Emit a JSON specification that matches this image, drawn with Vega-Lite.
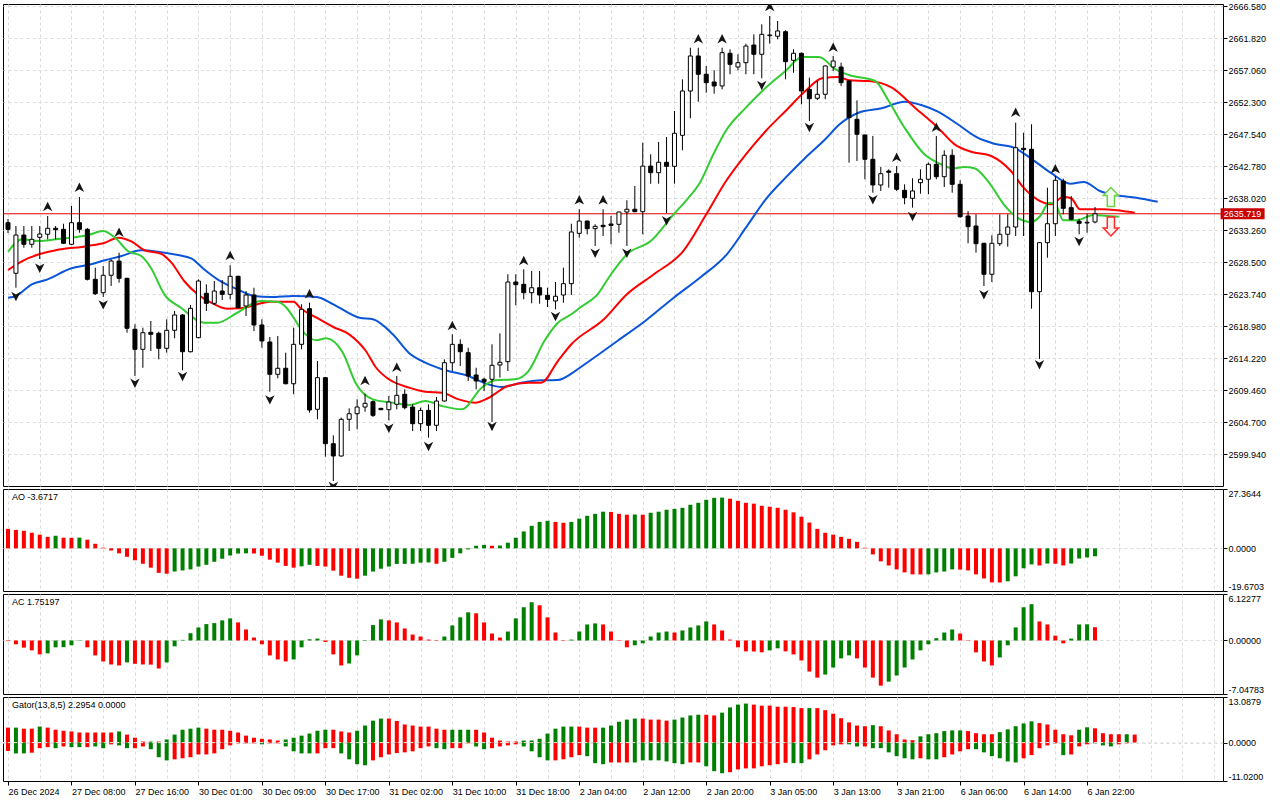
{
  "$schema": "https://vega.github.io/schema/vega-lite/v6.json",
  "background": "white",
  "padding": {"left": 2, "top": 1, "right": 0, "bottom": 0},
  "config": {
    "view": {"stroke": "#000000", "strokeWidth": 1},
    "concat": {"spacing": 1},
    "locale": {"number": {"decimal": ".", "thousands": ",", "grouping": [3], "currency": ["", ""], "minus": "-"}},
    "axis": {"labelFont": "Liberation Sans", "labelFontSize": 9, "labelColor": "#000000", "tickColor": "#000000", "tickSize": 4, "labelPadding": 1, "domain": false, "gridColor": "#dadada", "gridDash": [3, 3], "gridWidth": 1},
    "text": {"font": "Liberation Sans", "fontSize": 9, "color": "#000000"}
  },
  "datasets": {
    "candles": [
      {"i":0,"o":2634.39,"h":2634.94,"l":2632.86,"c":2633.41},{"i":1,"o":2626.87,"h":2633.90,"l":2624.72,"c":2632.56},{"i":2,"o":2632.56,"h":2633.90,"l":2630.67,"c":2631.18},{"i":3,"o":2631.18,"h":2633.90,"l":2630.67,"c":2631.92},{"i":4,"o":2632.22,"h":2633.90,"l":2628.99,"c":2632.71},{"i":5,"o":2632.67,"h":2635.39,"l":2631.92,"c":2633.56},{"i":6,"o":2633.56,"h":2633.90,"l":2631.92,"c":2633.35},{"i":7,"o":2633.41,"h":2634.24,"l":2631.25,"c":2631.33},{"i":8,"o":2631.18,"h":2636.88,"l":2631.10,"c":2634.39},{"i":9,"o":2634.39,"h":2638.21,"l":2632.90,"c":2633.41},
      {"i":10,"o":2633.41,"h":2633.60,"l":2625.80,"c":2625.97},{"i":11,"o":2625.97,"h":2627.70,"l":2623.64,"c":2623.83},{"i":12,"o":2623.98,"h":2627.95,"l":2623.34,"c":2626.57},{"i":13,"o":2626.57,"h":2628.95,"l":2624.98,"c":2628.69},{"i":14,"o":2628.69,"h":2629.93,"l":2625.47,"c":2626.12},{"i":15,"o":2626.12,"h":2626.20,"l":2618.03,"c":2618.69},{"i":16,"o":2618.54,"h":2619.28,"l":2611.59,"c":2615.56},{"i":17,"o":2615.56,"h":2618.77,"l":2612.82,"c":2618.03},{"i":18,"o":2618.09,"h":2619.77,"l":2615.31,"c":2617.79},{"i":19,"o":2617.94,"h":2618.18,"l":2614.07,"c":2615.71},
      {"i":20,"o":2615.71,"h":2620.02,"l":2615.06,"c":2618.39},{"i":21,"o":2618.39,"h":2621.26,"l":2617.20,"c":2620.66},{"i":22,"o":2620.66,"h":2620.80,"l":2612.44,"c":2615.20},{"i":23,"o":2615.20,"h":2622.15,"l":2615.10,"c":2621.66},{"i":24,"o":2617.29,"h":2625.97,"l":2617.20,"c":2625.72},{"i":25,"o":2623.89,"h":2625.23,"l":2621.26,"c":2622.40},{"i":26,"o":2622.40,"h":2625.72,"l":2622.15,"c":2624.23},{"i":27,"o":2624.23,"h":2625.87,"l":2622.89,"c":2623.74},{"i":28,"o":2623.74,"h":2628.06,"l":2622.99,"c":2626.42},{"i":29,"o":2626.42,"h":2626.50,"l":2621.70,"c":2621.75},
      {"i":30,"o":2622.00,"h":2624.23,"l":2620.51,"c":2623.64},{"i":31,"o":2623.64,"h":2624.72,"l":2618.28,"c":2619.18},{"i":32,"o":2619.18,"h":2620.02,"l":2615.80,"c":2616.80},{"i":33,"o":2616.65,"h":2617.39,"l":2609.26,"c":2611.84},{"i":34,"o":2611.84,"h":2617.54,"l":2611.25,"c":2612.74},{"i":35,"o":2612.74,"h":2615.06,"l":2610.35,"c":2610.44},{"i":36,"o":2610.44,"h":2618.77,"l":2608.87,"c":2616.30},{"i":37,"o":2616.30,"h":2622.26,"l":2615.56,"c":2621.51},{"i":38,"o":2621.60,"h":2622.49,"l":2606.13,"c":2606.53},{"i":39,"o":2606.64,"h":2613.82,"l":2605.15,"c":2611.34},
      {"i":40,"o":2611.34,"h":2611.40,"l":2599.59,"c":2601.52},{"i":41,"o":2601.52,"h":2602.77,"l":2595.97,"c":2599.69},{"i":42,"o":2599.69,"h":2605.39,"l":2599.60,"c":2605.15},{"i":43,"o":2605.15,"h":2606.78,"l":2603.41,"c":2605.98},{"i":44,"o":2605.98,"h":2608.13,"l":2603.66,"c":2606.98},{"i":45,"o":2606.98,"h":2608.96,"l":2606.28,"c":2607.53},{"i":46,"o":2607.77,"h":2607.97,"l":2605.49,"c":2605.74},{"i":47,"o":2606.78,"h":2606.85,"l":2606.52,"c":2606.58},{"i":48,"o":2606.58,"h":2608.62,"l":2605.00,"c":2607.72},{"i":49,"o":2607.38,"h":2611.59,"l":2606.64,"c":2608.72},
      {"i":50,"o":2608.87,"h":2609.61,"l":2606.64,"c":2606.88},{"i":51,"o":2606.98,"h":2607.38,"l":2603.41,"c":2604.50},{"i":52,"o":2604.50,"h":2606.88,"l":2603.41,"c":2606.48},{"i":53,"o":2606.48,"h":2607.38,"l":2602.41,"c":2604.26},{"i":54,"o":2604.26,"h":2608.47,"l":2603.41,"c":2607.87},{"i":55,"o":2607.87,"h":2614.07,"l":2607.80,"c":2613.57},{"i":56,"o":2613.57,"h":2617.79,"l":2612.33,"c":2616.30},{"i":57,"o":2616.30,"h":2617.05,"l":2613.08,"c":2615.20},{"i":58,"o":2615.06,"h":2615.80,"l":2610.85,"c":2611.59},{"i":59,"o":2611.74,"h":2612.82,"l":2609.61,"c":2610.85},
      {"i":60,"o":2611.10,"h":2611.34,"l":2609.36,"c":2610.74},{"i":61,"o":2611.10,"h":2616.30,"l":2604.75,"c":2613.18},{"i":62,"o":2613.23,"h":2617.94,"l":2611.34,"c":2613.63},{"i":63,"o":2613.72,"h":2626.72,"l":2612.33,"c":2625.57},{"i":64,"o":2625.57,"h":2626.72,"l":2622.11,"c":2625.17},{"i":65,"o":2625.23,"h":2627.46,"l":2622.99,"c":2623.98},{"i":66,"o":2623.98,"h":2627.21,"l":2622.40,"c":2624.72},{"i":67,"o":2624.72,"h":2627.21,"l":2622.34,"c":2623.64},{"i":68,"o":2623.59,"h":2624.72,"l":2621.85,"c":2622.99},{"i":69,"o":2622.75,"h":2625.57,"l":2621.51,"c":2623.45},
      {"i":70,"o":2623.64,"h":2627.70,"l":2622.49,"c":2625.32},{"i":71,"o":2625.32,"h":2634.24,"l":2623.64,"c":2633.01},{"i":72,"o":2632.81,"h":2636.39,"l":2632.16,"c":2634.64},{"i":73,"o":2634.64,"h":2634.70,"l":2632.67,"c":2633.50},{"i":74,"o":2633.50,"h":2634.15,"l":2630.93,"c":2633.85},{"i":75,"o":2634.00,"h":2636.39,"l":2632.41,"c":2633.80},{"i":76,"o":2634.20,"h":2635.39,"l":2631.18,"c":2634.00},{"i":77,"o":2634.15,"h":2636.03,"l":2632.90,"c":2635.98},{"i":78,"o":2635.98,"h":2637.72,"l":2630.93,"c":2636.39},{"i":79,"o":2636.39,"h":2639.85,"l":2635.95,"c":2636.03},
      {"i":80,"o":2636.03,"h":2646.29,"l":2632.67,"c":2642.81},{"i":81,"o":2642.81,"h":2644.57,"l":2640.19,"c":2641.83},{"i":82,"o":2641.83,"h":2646.40,"l":2640.19,"c":2643.38},{"i":83,"o":2643.38,"h":2647.14,"l":2635.83,"c":2642.78},{"i":84,"o":2642.78,"h":2651.01,"l":2640.19,"c":2647.69},{"i":85,"o":2647.39,"h":2655.72,"l":2645.16,"c":2653.98},{"i":86,"o":2653.98,"h":2660.42,"l":2649.92,"c":2659.19},{"i":87,"o":2659.19,"h":2660.42,"l":2652.39,"c":2656.47},{"i":88,"o":2656.47,"h":2657.70,"l":2653.73,"c":2655.22},{"i":89,"o":2655.32,"h":2657.06,"l":2653.58,"c":2654.73},
      {"i":90,"o":2654.73,"h":2660.42,"l":2654.23,"c":2659.68},{"i":91,"o":2659.59,"h":2660.18,"l":2656.47,"c":2657.95},{"i":92,"o":2657.55,"h":2659.44,"l":2657.06,"c":2658.19},{"i":93,"o":2658.19,"h":2661.02,"l":2656.47,"c":2660.67},{"i":94,"o":2660.82,"h":2662.41,"l":2656.47,"c":2659.44},{"i":95,"o":2659.44,"h":2663.90,"l":2655.87,"c":2662.41},{"i":96,"o":2662.21,"h":2665.14,"l":2661.02,"c":2662.31},{"i":97,"o":2662.12,"h":2664.39,"l":2661.67,"c":2662.91},{"i":98,"o":2662.80,"h":2663.01,"l":2655.72,"c":2658.34},{"i":99,"o":2658.55,"h":2660.18,"l":2656.70,"c":2659.59},
      {"i":100,"o":2659.59,"h":2659.70,"l":2652.00,"c":2653.98},{"i":101,"o":2654.23,"h":2655.96,"l":2649.52,"c":2652.84},{"i":102,"o":2652.90,"h":2655.47,"l":2652.64,"c":2653.49},{"i":103,"o":2653.49,"h":2657.80,"l":2652.75,"c":2657.70},{"i":104,"o":2657.55,"h":2659.19,"l":2656.96,"c":2658.44},{"i":105,"o":2657.55,"h":2658.19,"l":2654.73,"c":2655.22},{"i":106,"o":2655.47,"h":2655.60,"l":2643.32,"c":2650.01},{"i":107,"o":2649.77,"h":2652.59,"l":2643.57,"c":2647.54},{"i":108,"o":2647.44,"h":2647.50,"l":2640.85,"c":2643.82},{"i":109,"o":2643.82,"h":2647.29,"l":2638.85,"c":2640.00},
      {"i":110,"o":2640.00,"h":2642.67,"l":2639.11,"c":2641.68},{"i":111,"o":2642.08,"h":2642.33,"l":2639.60,"c":2641.89},{"i":112,"o":2641.68,"h":2642.81,"l":2639.11,"c":2639.36},{"i":113,"o":2639.21,"h":2640.10,"l":2637.13,"c":2638.11},{"i":114,"o":2638.02,"h":2641.00,"l":2636.63,"c":2639.11},{"i":115,"o":2640.34,"h":2642.33,"l":2638.71,"c":2640.85},{"i":116,"o":2640.85,"h":2643.32,"l":2638.62,"c":2643.08},{"i":117,"o":2643.08,"h":2647.29,"l":2640.85,"c":2641.23},{"i":118,"o":2641.23,"h":2645.16,"l":2639.70,"c":2644.42},{"i":119,"o":2644.42,"h":2645.31,"l":2638.85,"c":2640.10},
      {"i":120,"o":2640.10,"h":2640.70,"l":2635.13,"c":2635.28},{"i":121,"o":2635.39,"h":2636.13,"l":2631.33,"c":2633.80},{"i":122,"o":2633.90,"h":2635.64,"l":2629.93,"c":2631.27},{"i":123,"o":2631.33,"h":2631.40,"l":2624.98,"c":2626.72},{"i":124,"o":2626.72,"h":2632.52,"l":2625.57,"c":2631.33},{"i":125,"o":2631.27,"h":2635.64,"l":2630.93,"c":2632.67},{"i":126,"o":2632.67,"h":2635.64,"l":2630.82,"c":2633.75},{"i":127,"o":2633.75,"h":2649.27,"l":2632.41,"c":2645.55},{"i":128,"o":2645.46,"h":2647.78,"l":2632.41,"c":2645.25},{"i":129,"o":2645.31,"h":2649.03,"l":2621.60,"c":2624.13},
      {"i":130,"o":2624.13,"h":2631.50,"l":2614.12,"c":2631.42},{"i":131,"o":2631.42,"h":2639.60,"l":2629.19,"c":2634.24},{"i":132,"o":2634.24,"h":2641.34,"l":2632.41,"c":2640.70},{"i":133,"o":2640.59,"h":2640.93,"l":2635.64,"c":2636.53},{"i":134,"o":2636.63,"h":2638.36,"l":2634.75,"c":2634.90},{"i":135,"o":2634.60,"h":2634.99,"l":2632.67,"c":2634.30},{"i":136,"o":2634.45,"h":2635.73,"l":2632.90,"c":2634.35},{"i":137,"o":2634.50,"h":2636.73,"l":2634.30,"c":2635.719}
    ],
    "lines": [
      {"s":"jaw","i":0,"p":2623.24},{"s":"jaw","i":1,"p":2623.49},{"s":"jaw","i":3,"p":2625.23},{"s":"jaw","i":5,"p":2625.97},{"s":"jaw","i":8,"p":2627.61},{"s":"jaw","i":10.1,"p":2628.10},{"s":"jaw","i":12.2,"p":2628.80},{"s":"jaw","i":14.3,"p":2629.44},{"s":"jaw","i":16.8,"p":2630.28},{"s":"jaw","i":18.9,"p":2630.08},{"s":"jaw","i":21.4,"p":2629.59},{"s":"jaw","i":23.1,"p":2629.10},{"s":"jaw","i":24.7,"p":2627.46},{"s":"jaw","i":26.4,"p":2625.97},{"s":"jaw","i":28.9,"p":2624.48},{"s":"jaw","i":31,"p":2623.49},{"s":"jaw","i":33.1,"p":2623.34},{"s":"jaw","i":36,"p":2623.49},{"s":"jaw","i":38.9,"p":2623.34},{"s":"jaw","i":41,"p":2622.25},{"s":"jaw","i":44.3,"p":2620.26},{"s":"jaw","i":46,"p":2620.02},{"s":"jaw","i":48.5,"p":2617.79},{"s":"jaw","i":50.5,"p":2615.06},{"s":"jaw","i":52.6,"p":2613.57},{"s":"jaw","i":54.7,"p":2612.59},{"s":"jaw","i":58,"p":2611.59},{"s":"jaw","i":60.5,"p":2610.36},{"s":"jaw","i":62.2,"p":2609.95},{"s":"jaw","i":64.7,"p":2610.59},{"s":"jaw","i":67.2,"p":2610.95},{"s":"jaw","i":69.3,"p":2611.00},{"s":"jaw","i":71,"p":2611.93},{"s":"jaw","i":72.2,"p":2612.93},{"s":"jaw","i":74.7,"p":2615.01},{"s":"jaw","i":76.8,"p":2616.80},{"s":"jaw","i":80.3,"p":2619.77},{"s":"jaw","i":83.9,"p":2623.24},{"s":"jaw","i":87.2,"p":2626.21},{"s":"jaw","i":90.6,"p":2629.69},{"s":"jaw","i":93,"p":2633.65},{"s":"jaw","i":95.5,"p":2637.87},{"s":"jaw","i":98,"p":2641.09},{"s":"jaw","i":100.5,"p":2644.06},{"s":"jaw","i":103,"p":2646.80},{"s":"jaw","i":104.7,"p":2648.92},{"s":"jaw","i":107.2,"p":2650.75},{"s":"jaw","i":110.1,"p":2651.41},{"s":"jaw","i":113,"p":2652.39},{"s":"jaw","i":115.1,"p":2651.90},{"s":"jaw","i":117.2,"p":2650.90},{"s":"jaw","i":119.7,"p":2649.03},{"s":"jaw","i":122.2,"p":2647.03},{"s":"jaw","i":124.3,"p":2646.14},{"s":"jaw","i":126.8,"p":2645.55},{"s":"jaw","i":128.9,"p":2643.97},{"s":"jaw","i":131.4,"p":2641.83},{"s":"jaw","i":133.9,"p":2640.19},{"s":"jaw","i":135.6,"p":2640.45},{"s":"jaw","i":137.6,"p":2639.11},{"s":"jaw","i":139.7,"p":2638.47},{"s":"jaw","i":142.2,"p":2638.11},{"s":"jaw","i":144.9,"p":2637.52},
      {"s":"teeth","i":0,"p":2627.36},{"s":"teeth","i":1.8,"p":2628.69},{"s":"teeth","i":3.9,"p":2629.69},{"s":"teeth","i":6,"p":2630.29},{"s":"teeth","i":10.1,"p":2630.93},{"s":"teeth","i":12.2,"p":2631.42},{"s":"teeth","i":13.9,"p":2632.16},{"s":"teeth","i":15.6,"p":2631.57},{"s":"teeth","i":17.2,"p":2630.29},{"s":"teeth","i":19.3,"p":2629.78},{"s":"teeth","i":20.6,"p":2628.45},{"s":"teeth","i":22.2,"p":2625.72},{"s":"teeth","i":23.9,"p":2623.74},{"s":"teeth","i":25.6,"p":2622.49},{"s":"teeth","i":27.6,"p":2621.60},{"s":"teeth","i":29.3,"p":2621.66},{"s":"teeth","i":31.4,"p":2622.25},{"s":"teeth","i":33,"p":2622.64},{"s":"teeth","i":36,"p":2622.64},{"s":"teeth","i":36.8,"p":2621.75},{"s":"teeth","i":38.9,"p":2620.26},{"s":"teeth","i":41,"p":2618.88},{"s":"teeth","i":43,"p":2617.79},{"s":"teeth","i":45.1,"p":2615.31},{"s":"teeth","i":46.4,"p":2612.82},{"s":"teeth","i":48,"p":2611.10},{"s":"teeth","i":50.6,"p":2609.85},{"s":"teeth","i":52.6,"p":2609.25},{"s":"teeth","i":54.7,"p":2609.11},{"s":"teeth","i":56.8,"p":2608.12},{"s":"teeth","i":58.9,"p":2607.62},{"s":"teeth","i":60.6,"p":2608.36},{"s":"teeth","i":63,"p":2610.10},{"s":"teeth","i":65.6,"p":2610.59},{"s":"teeth","i":67.2,"p":2610.59},{"s":"teeth","i":69.3,"p":2613.82},{"s":"teeth","i":71,"p":2616.31},{"s":"teeth","i":75.1,"p":2620.02},{"s":"teeth","i":78,"p":2623.74},{"s":"teeth","i":81.4,"p":2626.72},{"s":"teeth","i":85.1,"p":2630.18},{"s":"teeth","i":88,"p":2635.64},{"s":"teeth","i":90.5,"p":2640.59},{"s":"teeth","i":93,"p":2644.57},{"s":"teeth","i":95.5,"p":2648.03},{"s":"teeth","i":98,"p":2651.01},{"s":"teeth","i":100.5,"p":2653.98},{"s":"teeth","i":102.6,"p":2655.87},{"s":"teeth","i":104.7,"p":2656.06},{"s":"teeth","i":106,"p":2655.57},{"s":"teeth","i":108.5,"p":2655.47},{"s":"teeth","i":111.4,"p":2654.47},{"s":"teeth","i":114.3,"p":2651.50},{"s":"teeth","i":117.2,"p":2648.52},{"s":"teeth","i":119.3,"p":2646.05},{"s":"teeth","i":121.4,"p":2644.95},{"s":"teeth","i":123.9,"p":2644.31},{"s":"teeth","i":126.4,"p":2642.08},{"s":"teeth","i":128,"p":2639.60},{"s":"teeth","i":129.7,"p":2637.87},{"s":"teeth","i":131.4,"p":2637.13},{"s":"teeth","i":133,"p":2638.21},{"s":"teeth","i":134,"p":2638.02},{"s":"teeth","i":135.1,"p":2636.38},{"s":"teeth","i":138,"p":2636.38},{"s":"teeth","i":139.7,"p":2636.24},{"s":"teeth","i":142,"p":2635.88},
      {"s":"lips","i":0,"p":2630.08},{"s":"lips","i":1.8,"p":2631.92},{"s":"lips","i":3.9,"p":2631.67},{"s":"lips","i":6,"p":2631.92},{"s":"lips","i":10.1,"p":2632.56},{"s":"lips","i":12,"p":2633.16},{"s":"lips","i":13.5,"p":2632.16},{"s":"lips","i":15.1,"p":2630.18},{"s":"lips","i":16.8,"p":2629.44},{"s":"lips","i":18,"p":2627.70},{"s":"lips","i":19.7,"p":2623.74},{"s":"lips","i":21.8,"p":2621.75},{"s":"lips","i":24.7,"p":2619.52},{"s":"lips","i":26.4,"p":2619.52},{"s":"lips","i":28.9,"p":2621.00},{"s":"lips","i":31.8,"p":2622.74},{"s":"lips","i":33.9,"p":2622.64},{"s":"lips","i":35.1,"p":2621.75},{"s":"lips","i":36,"p":2620.26},{"s":"lips","i":36.8,"p":2618.77},{"s":"lips","i":38.9,"p":2616.90},{"s":"lips","i":40.1,"p":2617.20},{"s":"lips","i":42.2,"p":2615.06},{"s":"lips","i":43.9,"p":2610.36},{"s":"lips","i":46,"p":2608.12},{"s":"lips","i":48.5,"p":2607.62},{"s":"lips","i":50.6,"p":2607.28},{"s":"lips","i":52.6,"p":2607.87},{"s":"lips","i":54.7,"p":2607.13},{"s":"lips","i":57.2,"p":2606.64},{"s":"lips","i":59.7,"p":2609.85},{"s":"lips","i":61.4,"p":2610.95},{"s":"lips","i":63.9,"p":2611.10},{"s":"lips","i":65.6,"p":2612.33},{"s":"lips","i":67.6,"p":2616.80},{"s":"lips","i":69.3,"p":2619.52},{"s":"lips","i":71,"p":2620.77},{"s":"lips","i":72.2,"p":2621.85},{"s":"lips","i":74.3,"p":2623.74},{"s":"lips","i":76,"p":2626.72},{"s":"lips","i":78,"p":2629.69},{"s":"lips","i":81,"p":2631.67},{"s":"lips","i":83.9,"p":2635.64},{"s":"lips","i":85.6,"p":2637.87},{"s":"lips","i":87.2,"p":2640.34},{"s":"lips","i":88.9,"p":2644.57},{"s":"lips","i":90.6,"p":2648.28},{"s":"lips","i":93,"p":2651.50},{"s":"lips","i":95.5,"p":2654.47},{"s":"lips","i":98,"p":2656.96},{"s":"lips","i":100.1,"p":2659.04},{"s":"lips","i":102.2,"p":2659.04},{"s":"lips","i":104.3,"p":2657.21},{"s":"lips","i":106,"p":2656.36},{"s":"lips","i":109.3,"p":2655.47},{"s":"lips","i":111,"p":2652.49},{"s":"lips","i":113,"p":2648.52},{"s":"lips","i":115.5,"p":2644.57},{"s":"lips","i":117.6,"p":2643.08},{"s":"lips","i":119.1,"p":2642.48},{"s":"lips","i":120.5,"p":2642.68},{"s":"lips","i":121.8,"p":2642.48},{"s":"lips","i":123.5,"p":2640.59},{"s":"lips","i":125.5,"p":2637.13},{"s":"lips","i":127.2,"p":2635.14},{"s":"lips","i":128.9,"p":2634.50},{"s":"lips","i":130.1,"p":2635.39},{"s":"lips","i":131.2,"p":2637.37},{"s":"lips","i":132,"p":2637.13},{"s":"lips","i":133,"p":2634.75},{"s":"lips","i":134.7,"p":2634.75},{"s":"lips","i":136.8,"p":2635.54},{"s":"lips","i":138.5,"p":2635.39},{"s":"lips","i":140,"p":2635.29}
    ],
    "fr": [
      {"i":5,"p":2636.73,"k":"up"},{"i":9,"p":2639.60,"k":"up"},{"i":14,"p":2632.90,"k":"up"},{"i":28,"p":2629.44,"k":"up"},{"i":38,"p":2623.74,"k":"up"},{"i":45,"p":2610.85,"k":"up"},{"i":49,"p":2612.82,"k":"up"},{"i":56,"p":2619.03,"k":"up"},{"i":65,"p":2628.69,"k":"up"},{"i":72,"p":2637.72,"k":"up"},{"i":75,"p":2637.72,"k":"up"},{"i":87,"p":2661.67,"k":"up"},{"i":90,"p":2661.67,"k":"up"},{"i":96,"p":2666.48,"k":"up"},{"i":104,"p":2660.42,"k":"up"},{"i":112,"p":2644.06,"k":"up"},{"i":117,"p":2648.52,"k":"up"},{"i":127,"p":2650.75,"k":"up"},{"i":132,"p":2642.33,"k":"up"},
      {"i":1,"p":2623.49,"k":"dn"},{"i":4,"p":2627.70,"k":"dn"},{"i":12,"p":2622.25,"k":"dn"},{"i":16,"p":2610.59,"k":"dn"},{"i":22,"p":2611.59,"k":"dn"},{"i":33,"p":2608.12,"k":"dn"},{"i":41,"p":2595.23,"k":"dn"},{"i":48,"p":2603.90,"k":"dn"},{"i":53,"p":2601.17,"k":"dn"},{"i":61,"p":2604.15,"k":"dn"},{"i":69,"p":2620.51,"k":"dn"},{"i":74,"p":2629.93,"k":"dn"},{"i":78,"p":2629.93,"k":"dn"},{"i":83,"p":2634.75,"k":"dn"},{"i":95,"p":2654.87,"k":"dn"},{"i":101,"p":2648.63,"k":"dn"},{"i":109,"p":2637.87,"k":"dn"},{"i":114,"p":2635.39,"k":"dn"},{"i":123,"p":2623.74,"k":"dn"},{"i":130,"p":2613.33,"k":"dn"},{"i":135,"p":2631.67,"k":"dn"}
    ],
    "sig": [{"i":139,"p":2638.21,"k":"up"},{"i":139,"p":2633.83,"k":"dn"}],
    "ao": [
      {"i":0,"v":9.0,"d":"dn"},{"i":1,"v":8.5,"d":"dn"},{"i":2,"v":8.1,"d":"dn"},{"i":3,"v":7.2,"d":"dn"},{"i":4,"v":6.3,"d":"dn"},{"i":5,"v":5.3,"d":"dn"},{"i":6,"v":5.8,"d":"up"},{"i":7,"v":4.9,"d":"dn"},{"i":8,"v":4.85,"d":"dn"},{"i":9,"v":4.95,"d":"up"},
      {"i":10,"v":4.0,"d":"dn"},{"i":11,"v":2.1,"d":"dn"},{"i":12,"v":0.3,"d":"dn"},{"i":13,"v":-1.0,"d":"dn"},{"i":14,"v":-2.3,"d":"dn"},{"i":15,"v":-3.9,"d":"dn"},{"i":16,"v":-5.5,"d":"dn"},{"i":17,"v":-7.1,"d":"dn"},{"i":18,"v":-8.9,"d":"dn"},{"i":19,"v":-11.3,"d":"dn"},
      {"i":20,"v":-11.7,"d":"dn"},{"i":21,"v":-10.7,"d":"up"},{"i":22,"v":-10.2,"d":"up"},{"i":23,"v":-9.7,"d":"up"},{"i":24,"v":-8.4,"d":"up"},{"i":25,"v":-7.6,"d":"up"},{"i":26,"v":-6.2,"d":"up"},{"i":27,"v":-4.8,"d":"up"},{"i":28,"v":-3.3,"d":"up"},{"i":29,"v":-2.4,"d":"up"},
      {"i":30,"v":-2.3,"d":"up"},{"i":31,"v":-2.4,"d":"dn"},{"i":32,"v":-3.4,"d":"dn"},{"i":33,"v":-5.2,"d":"dn"},{"i":34,"v":-6.6,"d":"dn"},{"i":35,"v":-8.1,"d":"dn"},{"i":36,"v":-8.9,"d":"dn"},{"i":37,"v":-8.3,"d":"up"},{"i":38,"v":-7.6,"d":"up"},{"i":39,"v":-8.1,"d":"dn"},
      {"i":40,"v":-8.4,"d":"dn"},{"i":41,"v":-10.3,"d":"dn"},{"i":42,"v":-12.6,"d":"dn"},{"i":43,"v":-13.6,"d":"dn"},{"i":44,"v":-14.0,"d":"dn"},{"i":45,"v":-12.6,"d":"up"},{"i":46,"v":-10.7,"d":"up"},{"i":47,"v":-9.4,"d":"up"},{"i":48,"v":-8.4,"d":"up"},{"i":49,"v":-7.2,"d":"up"},
      {"i":50,"v":-7.15,"d":"up"},{"i":51,"v":-7.1,"d":"up"},{"i":52,"v":-6.6,"d":"up"},{"i":53,"v":-6.5,"d":"up"},{"i":54,"v":-7.1,"d":"dn"},{"i":55,"v":-6.2,"d":"up"},{"i":56,"v":-4.4,"d":"up"},{"i":57,"v":-2.3,"d":"up"},{"i":58,"v":-0.5,"d":"up"},{"i":59,"v":1.2,"d":"up"},
      {"i":60,"v":1.6,"d":"up"},{"i":61,"v":1.2,"d":"dn"},{"i":62,"v":1.3,"d":"up"},{"i":63,"v":2.6,"d":"up"},{"i":64,"v":4.9,"d":"up"},{"i":65,"v":7.8,"d":"up"},{"i":66,"v":10.4,"d":"up"},{"i":67,"v":12.2,"d":"up"},{"i":68,"v":12.7,"d":"up"},{"i":69,"v":12.2,"d":"dn"},
      {"i":70,"v":11.8,"d":"dn"},{"i":71,"v":12.2,"d":"up"},{"i":72,"v":13.7,"d":"up"},{"i":73,"v":15.0,"d":"up"},{"i":74,"v":15.9,"d":"up"},{"i":75,"v":16.9,"d":"up"},{"i":76,"v":16.8,"d":"dn"},{"i":77,"v":15.9,"d":"dn"},{"i":78,"v":15.5,"d":"dn"},{"i":79,"v":15.6,"d":"up"},
      {"i":80,"v":15.5,"d":"dn"},{"i":81,"v":16.4,"d":"up"},{"i":82,"v":16.9,"d":"up"},{"i":83,"v":17.8,"d":"up"},{"i":84,"v":18.2,"d":"up"},{"i":85,"v":18.7,"d":"up"},{"i":86,"v":20.1,"d":"up"},{"i":87,"v":21.0,"d":"up"},{"i":88,"v":22.4,"d":"up"},{"i":89,"v":23.3,"d":"up"},
      {"i":90,"v":23.4,"d":"up"},{"i":91,"v":22.9,"d":"dn"},{"i":92,"v":21.9,"d":"dn"},{"i":93,"v":21.0,"d":"dn"},{"i":94,"v":20.6,"d":"dn"},{"i":95,"v":19.6,"d":"dn"},{"i":96,"v":19.2,"d":"dn"},{"i":97,"v":18.7,"d":"dn"},{"i":98,"v":17.8,"d":"dn"},{"i":99,"v":16.6,"d":"dn"},
      {"i":100,"v":14.6,"d":"dn"},{"i":101,"v":11.9,"d":"dn"},{"i":102,"v":9.0,"d":"dn"},{"i":103,"v":7.2,"d":"dn"},{"i":104,"v":6.3,"d":"dn"},{"i":105,"v":5.3,"d":"dn"},{"i":106,"v":4.4,"d":"dn"},{"i":107,"v":3.0,"d":"dn"},{"i":108,"v":0.3,"d":"dn"},{"i":109,"v":-2.8,"d":"dn"},
      {"i":110,"v":-6.0,"d":"dn"},{"i":111,"v":-7.9,"d":"dn"},{"i":112,"v":-9.7,"d":"dn"},{"i":113,"v":-11.1,"d":"dn"},{"i":114,"v":-12.0,"d":"dn"},{"i":115,"v":-12.05,"d":"dn"},{"i":116,"v":-12.0,"d":"up"},{"i":117,"v":-11.1,"d":"up"},{"i":118,"v":-10.7,"d":"up"},{"i":119,"v":-9.7,"d":"up"},
      {"i":120,"v":-9.8,"d":"dn"},{"i":121,"v":-10.2,"d":"dn"},{"i":122,"v":-12.0,"d":"dn"},{"i":123,"v":-13.9,"d":"dn"},{"i":124,"v":-15.7,"d":"dn"},{"i":125,"v":-15.75,"d":"dn"},{"i":126,"v":-15.2,"d":"up"},{"i":127,"v":-12.9,"d":"up"},{"i":128,"v":-9.2,"d":"up"},{"i":129,"v":-7.4,"d":"up"},
      {"i":130,"v":-7.9,"d":"dn"},{"i":131,"v":-7.0,"d":"up"},{"i":132,"v":-7.1,"d":"dn"},{"i":133,"v":-7.9,"d":"dn"},{"i":134,"v":-7.0,"d":"up"},{"i":135,"v":-4.7,"d":"up"},{"i":136,"v":-4.2,"d":"up"},{"i":137,"v":-3.67,"d":"up"}
    ],
    "ac": [
      {"i":0,"v":-0.08,"d":"dn"},{"i":1,"v":-0.50,"d":"dn"},{"i":2,"v":-0.94,"d":"dn"},{"i":3,"v":-1.30,"d":"dn"},{"i":4,"v":-1.83,"d":"dn"},{"i":5,"v":-1.70,"d":"up"},{"i":6,"v":-0.90,"d":"up"},{"i":7,"v":-0.88,"d":"up"},{"i":8,"v":-0.63,"d":"up"},{"i":9,"v":-0.05,"d":"up"},
      {"i":10,"v":-0.90,"d":"dn"},{"i":11,"v":-1.96,"d":"dn"},{"i":12,"v":-2.76,"d":"dn"},{"i":13,"v":-3.16,"d":"dn"},{"i":14,"v":-3.29,"d":"dn"},{"i":15,"v":-2.89,"d":"up"},{"i":16,"v":-3.07,"d":"dn"},{"i":17,"v":-3.16,"d":"dn"},{"i":18,"v":-3.18,"d":"dn"},{"i":19,"v":-3.69,"d":"dn"},
      {"i":20,"v":-2.89,"d":"up"},{"i":21,"v":-0.77,"d":"up"},{"i":22,"v":0.08,"d":"up"},{"i":23,"v":0.96,"d":"up"},{"i":24,"v":1.72,"d":"up"},{"i":25,"v":2.16,"d":"up"},{"i":26,"v":2.29,"d":"up"},{"i":27,"v":2.65,"d":"up"},{"i":28,"v":2.91,"d":"up"},{"i":29,"v":2.38,"d":"dn"},
      {"i":30,"v":1.45,"d":"dn"},{"i":31,"v":0.39,"d":"dn"},{"i":32,"v":-0.50,"d":"dn"},{"i":33,"v":-1.96,"d":"dn"},{"i":34,"v":-2.50,"d":"dn"},{"i":35,"v":-2.76,"d":"dn"},{"i":36,"v":-2.50,"d":"up"},{"i":37,"v":-0.90,"d":"up"},{"i":38,"v":0.16,"d":"up"},{"i":39,"v":0.25,"d":"up"},
      {"i":40,"v":-0.19,"d":"dn"},{"i":41,"v":-1.83,"d":"dn"},{"i":42,"v":-3.29,"d":"dn"},{"i":43,"v":-3.03,"d":"up"},{"i":44,"v":-1.96,"d":"up"},{"i":45,"v":-0.06,"d":"up"},{"i":46,"v":2.03,"d":"up"},{"i":47,"v":2.78,"d":"up"},{"i":48,"v":2.65,"d":"dn"},{"i":49,"v":2.38,"d":"dn"},
      {"i":50,"v":1.58,"d":"dn"},{"i":51,"v":0.78,"d":"dn"},{"i":52,"v":0.52,"d":"dn"},{"i":53,"v":0.12,"d":"dn"},{"i":54,"v":-0.06,"d":"dn"},{"i":55,"v":0.52,"d":"up"},{"i":56,"v":1.98,"d":"up"},{"i":57,"v":3.05,"d":"up"},{"i":58,"v":3.71,"d":"up"},{"i":59,"v":3.58,"d":"dn"},
      {"i":60,"v":2.38,"d":"dn"},{"i":61,"v":0.92,"d":"dn"},{"i":62,"v":0.39,"d":"dn"},{"i":63,"v":1.18,"d":"up"},{"i":64,"v":2.91,"d":"up"},{"i":65,"v":4.38,"d":"up"},{"i":66,"v":5.04,"d":"up"},{"i":67,"v":4.64,"d":"dn"},{"i":68,"v":3.05,"d":"dn"},{"i":69,"v":1.05,"d":"dn"},
      {"i":70,"v":-0.06,"d":"dn"},{"i":71,"v":0.12,"d":"up"},{"i":72,"v":1.18,"d":"up"},{"i":73,"v":2.11,"d":"up"},{"i":74,"v":2.25,"d":"up"},{"i":75,"v":2.11,"d":"dn"},{"i":76,"v":1.18,"d":"dn"},{"i":77,"v":-0.06,"d":"dn"},{"i":78,"v":-0.90,"d":"dn"},{"i":79,"v":-0.63,"d":"up"},
      {"i":80,"v":-0.37,"d":"up"},{"i":81,"v":0.52,"d":"up"},{"i":82,"v":1.05,"d":"up"},{"i":83,"v":1.18,"d":"up"},{"i":84,"v":1.05,"d":"dn"},{"i":85,"v":1.32,"d":"up"},{"i":86,"v":1.72,"d":"up"},{"i":87,"v":1.98,"d":"up"},{"i":88,"v":2.51,"d":"up"},{"i":89,"v":2.11,"d":"dn"},
      {"i":90,"v":1.32,"d":"dn"},{"i":91,"v":0.12,"d":"dn"},{"i":92,"v":-0.90,"d":"dn"},{"i":93,"v":-1.43,"d":"dn"},{"i":94,"v":-1.45,"d":"dn"},{"i":95,"v":-1.56,"d":"dn"},{"i":96,"v":-1.30,"d":"up"},{"i":97,"v":-1.03,"d":"up"},{"i":98,"v":-1.43,"d":"dn"},{"i":99,"v":-1.83,"d":"dn"},
      {"i":100,"v":-2.63,"d":"dn"},{"i":101,"v":-4.09,"d":"dn"},{"i":102,"v":-4.89,"d":"dn"},{"i":103,"v":-4.49,"d":"up"},{"i":104,"v":-3.56,"d":"up"},{"i":105,"v":-2.36,"d":"up"},{"i":106,"v":-1.96,"d":"up"},{"i":107,"v":-2.36,"d":"dn"},{"i":108,"v":-3.56,"d":"dn"},{"i":109,"v":-4.89,"d":"dn"},
      {"i":110,"v":-5.95,"d":"dn"},{"i":111,"v":-5.42,"d":"up"},{"i":112,"v":-4.62,"d":"up"},{"i":113,"v":-3.56,"d":"up"},{"i":114,"v":-2.50,"d":"up"},{"i":115,"v":-1.30,"d":"up"},{"i":116,"v":-0.50,"d":"up"},{"i":117,"v":0.30,"d":"up"},{"i":118,"v":1.05,"d":"up"},{"i":119,"v":1.45,"d":"up"},
      {"i":120,"v":0.92,"d":"dn"},{"i":121,"v":-0.05,"d":"dn"},{"i":122,"v":-1.56,"d":"dn"},{"i":123,"v":-2.76,"d":"dn"},{"i":124,"v":-3.29,"d":"dn"},{"i":125,"v":-2.23,"d":"up"},{"i":126,"v":-0.63,"d":"up"},{"i":127,"v":1.72,"d":"up"},{"i":128,"v":4.38,"d":"up"},{"i":129,"v":4.78,"d":"up"},
      {"i":130,"v":2.51,"d":"dn"},{"i":131,"v":2.11,"d":"dn"},{"i":132,"v":0.64,"d":"dn"},{"i":133,"v":-0.37,"d":"dn"},{"i":134,"v":0.25,"d":"up"},{"i":135,"v":2.11,"d":"up"},{"i":136,"v":2.13,"d":"up"},{"i":137,"v":1.75,"d":"dn"}
    ],
    "gator": [
      {"i":0,"u":4.3,"ud":"dn","l":-2.4,"ld":"dn"},{"i":1,"u":4.3,"ud":"up","l":-3.1,"ld":"up"},{"i":2,"u":4.0,"ud":"dn","l":-3.1,"ld":"up"},{"i":3,"u":4.0,"ud":"dn","l":-2.9,"ld":"dn"},{"i":4,"u":4.6,"ud":"up","l":-1.6,"ld":"dn"},{"i":5,"u":4.3,"ud":"dn","l":-1.3,"ld":"dn"},{"i":6,"u":3.7,"ud":"dn","l":-1.6,"ld":"up"},{"i":7,"u":3.4,"ud":"dn","l":-1.1,"ld":"dn"},{"i":8,"u":3.2,"ud":"dn","l":-1.3,"ld":"up"},{"i":9,"u":2.9,"ud":"dn","l":-1.3,"ld":"up"},
      {"i":10,"u":2.9,"ud":"dn","l":-1.3,"ld":"dn"},{"i":11,"u":2.9,"ud":"dn","l":-1.1,"ld":"up"},{"i":12,"u":2.9,"ud":"dn","l":-1.6,"ld":"up"},{"i":13,"u":2.9,"ud":"dn","l":-0.5,"ld":"dn"},{"i":14,"u":3.2,"ud":"up","l":-0.8,"ld":"up"},{"i":15,"u":2.3,"ud":"dn","l":-1.6,"ld":"up"},{"i":16,"u":1.4,"ud":"dn","l":-1.6,"ld":"dn"},{"i":17,"u":0.3,"ud":"dn","l":-1.1,"ld":"dn"},{"i":18,"u":0.3,"ud":"up","l":-1.9,"ld":"up"},{"i":19,"u":0.3,"ud":"dn","l":-4.2,"ld":"up"},
      {"i":20,"u":0.9,"ud":"up","l":-5.1,"ld":"up"},{"i":21,"u":2.3,"ud":"up","l":-4.8,"ld":"dn"},{"i":22,"u":3.7,"ud":"up","l":-4.5,"ld":"dn"},{"i":23,"u":4.0,"ud":"up","l":-4.2,"ld":"dn"},{"i":24,"u":4.3,"ud":"up","l":-3.4,"ld":"dn"},{"i":25,"u":4.0,"ud":"dn","l":-3.4,"ld":"dn"},{"i":26,"u":3.7,"ud":"dn","l":-3.1,"ld":"dn"},{"i":27,"u":3.7,"ud":"dn","l":-1.9,"ld":"dn"},{"i":28,"u":3.4,"ud":"dn","l":-0.8,"ld":"dn"},{"i":29,"u":2.9,"ud":"dn","l":-0.2,"ld":"dn"},
      {"i":30,"u":2.0,"ud":"dn","l":-0.2,"ld":"dn"},{"i":31,"u":1.4,"ud":"dn","l":-0.2,"ld":"dn"},{"i":32,"u":1.1,"ud":"dn","l":-0.5,"ld":"up"},{"i":33,"u":0.9,"ud":"dn","l":-0.2,"ld":"dn"},{"i":34,"u":0.6,"ud":"dn","l":-0.2,"ld":"dn"},{"i":35,"u":0.9,"ud":"up","l":-1.1,"ld":"up"},{"i":36,"u":1.4,"ud":"up","l":-2.5,"ld":"up"},{"i":37,"u":2.0,"ud":"up","l":-3.1,"ld":"up"},{"i":38,"u":2.6,"ud":"up","l":-3.1,"ld":"up"},{"i":39,"u":3.4,"ud":"up","l":-3.1,"ld":"dn"},
      {"i":40,"u":3.7,"ud":"up","l":-1.6,"ld":"dn"},{"i":41,"u":3.7,"ud":"dn","l":-1.6,"ld":"dn"},{"i":42,"u":3.2,"ud":"dn","l":-3.1,"ld":"up"},{"i":43,"u":2.9,"ud":"dn","l":-4.8,"ld":"up"},{"i":44,"u":3.4,"ud":"up","l":-6.2,"ld":"up"},{"i":45,"u":4.9,"ud":"up","l":-6.5,"ld":"up"},{"i":46,"u":6.3,"ud":"up","l":-5.1,"ld":"dn"},{"i":47,"u":6.9,"ud":"up","l":-4.2,"ld":"dn"},{"i":48,"u":6.9,"ud":"dn","l":-3.4,"ld":"dn"},{"i":49,"u":6.2,"ud":"dn","l":-3.0,"ld":"dn"},
      {"i":50,"u":5.2,"ud":"dn","l":-2.8,"ld":"dn"},{"i":51,"u":4.9,"ud":"dn","l":-2.5,"ld":"dn"},{"i":52,"u":4.6,"ud":"dn","l":-1.6,"ld":"dn"},{"i":53,"u":4.6,"ud":"dn","l":-1.1,"ld":"dn"},{"i":54,"u":4.0,"ud":"dn","l":-1.6,"ld":"up"},{"i":55,"u":3.7,"ud":"dn","l":-1.9,"ld":"up"},{"i":56,"u":3.7,"ud":"up","l":-1.6,"ld":"dn"},{"i":57,"u":3.7,"ud":"up","l":-1.6,"ld":"dn"},{"i":58,"u":3.7,"ud":"up","l":-0.2,"ld":"dn"},{"i":59,"u":3.7,"ud":"dn","l":-1.1,"ld":"up"},
      {"i":60,"u":2.9,"ud":"dn","l":-1.9,"ld":"up"},{"i":61,"u":1.4,"ud":"dn","l":-1.6,"ld":"dn"},{"i":62,"u":0.6,"ud":"dn","l":-1.1,"ld":"dn"},{"i":63,"u":0.3,"ud":"dn","l":-0.8,"ld":"dn"},{"i":64,"u":0.3,"ud":"dn","l":-0.5,"ld":"dn"},{"i":65,"u":0.6,"ud":"up","l":-1.1,"ld":"up"},{"i":66,"u":0.6,"ud":"up","l":-2.5,"ld":"up"},{"i":67,"u":1.1,"ud":"up","l":-4.2,"ld":"up"},{"i":68,"u":2.6,"ud":"up","l":-5.1,"ld":"up"},{"i":69,"u":4.0,"ud":"up","l":-5.1,"ld":"dn"},
      {"i":70,"u":4.6,"ud":"up","l":-4.8,"ld":"dn"},{"i":71,"u":4.6,"ud":"up","l":-4.2,"ld":"dn"},{"i":72,"u":4.6,"ud":"dn","l":-3.6,"ld":"dn"},{"i":73,"u":4.3,"ud":"dn","l":-3.9,"ld":"up"},{"i":74,"u":4.3,"ud":"dn","l":-5.9,"ld":"up"},{"i":75,"u":4.3,"ud":"up","l":-6.2,"ld":"up"},{"i":76,"u":4.9,"ud":"up","l":-5.7,"ld":"dn"},{"i":77,"u":6.0,"ud":"up","l":-5.7,"ld":"dn"},{"i":78,"u":6.6,"ud":"up","l":-5.7,"ld":"dn"},{"i":79,"u":6.9,"ud":"up","l":-5.7,"ld":"up"},
      {"i":80,"u":6.9,"ud":"dn","l":-5.1,"ld":"up"},{"i":81,"u":6.6,"ud":"dn","l":-5.1,"ld":"up"},{"i":82,"u":6.6,"ud":"dn","l":-5.1,"ld":"up"},{"i":83,"u":6.3,"ud":"dn","l":-5.4,"ld":"up"},{"i":84,"u":6.6,"ud":"up","l":-5.9,"ld":"up"},{"i":85,"u":7.2,"ud":"up","l":-6.2,"ld":"up"},{"i":86,"u":7.8,"ud":"up","l":-5.7,"ld":"dn"},{"i":87,"u":8.0,"ud":"up","l":-5.7,"ld":"dn"},{"i":88,"u":8.0,"ud":"dn","l":-6.8,"ld":"up"},{"i":89,"u":7.8,"ud":"dn","l":-8.2,"ld":"up"},
      {"i":90,"u":8.6,"ud":"up","l":-8.8,"ld":"up"},{"i":91,"u":10.1,"ud":"up","l":-8.5,"ld":"dn"},{"i":92,"u":10.9,"ud":"up","l":-7.7,"ld":"dn"},{"i":93,"u":11.2,"ud":"up","l":-7.4,"ld":"dn"},{"i":94,"u":10.9,"ud":"dn","l":-7.4,"ld":"dn"},{"i":95,"u":10.6,"ud":"dn","l":-6.8,"ld":"dn"},{"i":96,"u":10.6,"ud":"dn","l":-6.5,"ld":"dn"},{"i":97,"u":10.3,"ud":"dn","l":-6.2,"ld":"dn"},{"i":98,"u":10.3,"ud":"dn","l":-5.8,"ld":"dn"},{"i":99,"u":10.2,"ud":"dn","l":-5.9,"ld":"up"},
      {"i":100,"u":9.9,"ud":"dn","l":-5.9,"ld":"up"},{"i":101,"u":9.9,"ud":"up","l":-4.8,"ld":"dn"},{"i":102,"u":9.9,"ud":"dn","l":-3.4,"ld":"dn"},{"i":103,"u":9.3,"ud":"dn","l":-2.2,"ld":"dn"},{"i":104,"u":8.3,"ud":"dn","l":-0.8,"ld":"dn"},{"i":105,"u":7.0,"ud":"dn","l":-0.5,"ld":"dn"},{"i":106,"u":5.8,"ud":"dn","l":-0.5,"ld":"up"},{"i":107,"u":4.9,"ud":"dn","l":-1.1,"ld":"up"},{"i":108,"u":4.7,"ud":"dn","l":-1.1,"ld":"dn"},{"i":109,"u":5.0,"ud":"up","l":-1.6,"ld":"up"},
      {"i":110,"u":4.7,"ud":"dn","l":-1.6,"ld":"up"},{"i":111,"u":3.5,"ud":"dn","l":-2.8,"ld":"up"},{"i":112,"u":2.4,"ud":"dn","l":-3.9,"ld":"up"},{"i":113,"u":0.9,"ud":"dn","l":-4.5,"ld":"up"},{"i":114,"u":0.7,"ud":"dn","l":-4.8,"ld":"up"},{"i":115,"u":1.8,"ud":"up","l":-4.5,"ld":"dn"},{"i":116,"u":2.4,"ud":"up","l":-4.8,"ld":"up"},{"i":117,"u":2.7,"ud":"up","l":-4.8,"ld":"up"},{"i":118,"u":3.3,"ud":"up","l":-4.2,"ld":"dn"},{"i":119,"u":3.5,"ud":"up","l":-3.4,"ld":"dn"},
      {"i":120,"u":3.5,"ud":"up","l":-2.5,"ld":"dn"},{"i":121,"u":3.3,"ud":"dn","l":-1.9,"ld":"dn"},{"i":122,"u":2.7,"ud":"dn","l":-1.9,"ld":"up"},{"i":123,"u":2.4,"ud":"dn","l":-2.8,"ld":"up"},{"i":124,"u":2.4,"ud":"dn","l":-3.9,"ld":"up"},{"i":125,"u":3.0,"ud":"up","l":-4.5,"ld":"up"},{"i":126,"u":3.8,"ud":"up","l":-5.4,"ld":"up"},{"i":127,"u":4.7,"ud":"up","l":-5.7,"ld":"up"},{"i":128,"u":5.5,"ud":"up","l":-4.5,"ld":"dn"},{"i":129,"u":6.1,"ud":"up","l":-3.6,"ld":"dn"},
      {"i":130,"u":5.6,"ud":"dn","l":-1.6,"ld":"dn"},{"i":131,"u":5.2,"ud":"dn","l":-0.8,"ld":"dn"},{"i":132,"u":3.7,"ud":"dn","l":-0.2,"ld":"dn"},{"i":133,"u":2.4,"ud":"dn","l":-3.6,"ld":"up"},{"i":134,"u":2.1,"ud":"dn","l":-3.4,"ld":"dn"},{"i":135,"u":3.7,"ud":"up","l":-1.1,"ld":"dn"},{"i":136,"u":4.4,"ud":"up","l":-0.5,"ld":"dn"},{"i":137,"u":4.1,"ud":"dn","l":-0.2,"ld":"up"},{"i":138,"u":2.7,"ud":"dn","l":-0.8,"ld":"up"},{"i":139,"u":2.4,"ud":"dn","l":-1.1,"ld":"up"},
      {"i":140,"u":2.4,"ud":"dn","l":-0.5,"ld":"dn"},{"i":141,"u":2.4,"ud":"up","l":-0.2,"ld":"dn"},{"i":142,"u":2.3,"ud":"dn","l":0,"ld":"dn"}
    ]
  },
  "vconcat": [
    {
      "width": 1220,
      "height": 482,
      "layer": [
        {
          "data": {"values": [{"p": 2635.719}]},
          "mark": {"type": "rule", "color": "#e00000", "strokeWidth": 1},
          "encoding": {
            "y": {"field": "p", "type": "quantitative", "title": null, "scale": {"domain": [2595.23, 2666.92], "nice": false, "zero": false},
                  "axis": {"orient": "right", "grid": true, "format": ".3f", "labelOverlap": false, "tickCount": 40, "values": [2599.94, 2604.70, 2609.46, 2614.22, 2618.98, 2623.74, 2628.50, 2633.26, 2638.02, 2642.78, 2647.54, 2652.30, 2657.06, 2661.82, 2666.58]}}
          }
        },
        {
          "data": {"name": "lines"},
          "mark": {"type": "line", "strokeWidth": 2, "interpolate": "monotone", "clip": true},
          "encoding": {
            "x": {"field": "i", "type": "quantitative", "title": null, "scale": {"domain": [0, 152.5], "nice": false, "zero": false},
                  "axis": {"grid": true, "labels": false, "ticks": false, "domain": false, "tickCount": 80, "values": [0,4,8,12,16,20,24,28,32,36,40,44,48,52,56,60,64,68,72,76,80,84,88,92,96,100,104,108,112,116,120,124,128,132,136,140,144,148,152]}},
            "y": {"field": "p", "type": "quantitative", "title": null, "scale": {"domain": [2595.23, 2666.92], "nice": false, "zero": false}},
            "stroke": {"field": "s", "type": "nominal", "legend": null, "scale": {"domain": ["jaw", "teeth", "lips"], "range": ["#0b55d8", "#ff0000", "#33cc33"]}}
          }
        },
        {
          "data": {"name": "candles"},
          "mark": {"type": "rule", "color": "#000000", "strokeWidth": 1, "clip": true},
          "encoding": {
            "x": {"field": "i", "type": "quantitative", "title": null, "scale": {"domain": [0, 152.5], "nice": false, "zero": false}},
            "y": {"field": "l", "type": "quantitative", "title": null, "scale": {"domain": [2595.23, 2666.92], "nice": false, "zero": false}},
            "y2": {"field": "h"}
          }
        },
        {
          "data": {"name": "candles"},
          "mark": {"type": "bar", "width": 4, "stroke": "#000000", "strokeWidth": 1, "clip": true},
          "encoding": {
            "x": {"field": "i", "type": "quantitative", "title": null, "scale": {"domain": [0, 152.5], "nice": false, "zero": false}},
            "y": {"field": "o", "type": "quantitative", "title": null, "scale": {"domain": [2595.23, 2666.92], "nice": false, "zero": false}},
            "y2": {"field": "c"},
            "fill": {"condition": {"test": "datum.c >= datum.o", "value": "#ffffff"}, "value": "#000000"}
          }
        },
        {
          "data": {"name": "fr"},
          "transform": [{"filter": "datum.k === 'up'"}],
          "mark": {"type": "point", "shape": "M0,-1L0.9,0.8L0,0.3L-0.9,0.8Z", "filled": true, "color": "#151515", "opacity": 1, "size": 110, "clip": true},
          "encoding": {
            "x": {"field": "i", "type": "quantitative", "title": null, "scale": {"domain": [0, 152.5], "nice": false, "zero": false}},
            "y": {"field": "p", "type": "quantitative", "title": null, "scale": {"domain": [2595.23, 2666.92], "nice": false, "zero": false}}
          }
        },
        {
          "data": {"name": "fr"},
          "transform": [{"filter": "datum.k === 'dn'"}],
          "mark": {"type": "point", "shape": "M0,1L0.9,-0.8L0,-0.3L-0.9,-0.8Z", "filled": true, "color": "#151515", "opacity": 1, "size": 110, "clip": true},
          "encoding": {
            "x": {"field": "i", "type": "quantitative", "title": null, "scale": {"domain": [0, 152.5], "nice": false, "zero": false}},
            "y": {"field": "p", "type": "quantitative", "title": null, "scale": {"domain": [2595.23, 2666.92], "nice": false, "zero": false}}
          }
        },
        {
          "data": {"name": "sig"},
          "transform": [{"filter": "datum.k === 'up'"}],
          "mark": {"type": "point", "shape": "M0,-1L0.8,-0.15L0.38,-0.15L0.38,1L-0.38,1L-0.38,-0.15L-0.8,-0.15Z", "filled": true, "fill": "#f2fdee", "stroke": "#6fd04a", "strokeWidth": 1.5, "opacity": 1, "size": 361},
          "encoding": {
            "x": {"field": "i", "type": "quantitative", "title": null, "scale": {"domain": [0, 152.5], "nice": false, "zero": false}},
            "y": {"field": "p", "type": "quantitative", "title": null, "scale": {"domain": [2595.23, 2666.92], "nice": false, "zero": false}}
          }
        },
        {
          "data": {"name": "sig"},
          "transform": [{"filter": "datum.k === 'dn'"}],
          "mark": {"type": "point", "shape": "M0,1L0.8,0.15L0.38,0.15L0.38,-1L-0.38,-1L-0.38,0.15L-0.8,0.15Z", "filled": true, "fill": "#fff0f0", "stroke": "#ff2a2a", "strokeWidth": 1.5, "opacity": 1, "size": 361},
          "encoding": {
            "x": {"field": "i", "type": "quantitative", "title": null, "scale": {"domain": [0, 152.5], "nice": false, "zero": false}},
            "y": {"field": "p", "type": "quantitative", "title": null, "scale": {"domain": [2595.23, 2666.92], "nice": false, "zero": false}}
          }
        },
        {
          "data": {"values": [{"p": 2635.719}]},
          "mark": {"type": "point", "shape": "M-1,-0.25L1,-0.25L1,0.25L-1,0.25Z", "filled": true, "color": "#c80000", "opacity": 1, "size": 1936},
          "encoding": {
            "x": {"datum": 155.6, "type": "quantitative", "scale": {"domain": [0, 152.5], "nice": false, "zero": false}},
            "y": {"field": "p", "type": "quantitative", "title": null, "scale": {"domain": [2595.23, 2666.92], "nice": false, "zero": false}}
          }
        },
        {
          "data": {"values": [{"p": 2635.719}]},
          "mark": {"type": "text", "color": "#ffffff", "align": "center", "baseline": "middle"},
          "encoding": {
            "x": {"datum": 155.6, "type": "quantitative", "scale": {"domain": [0, 152.5], "nice": false, "zero": false}},
            "y": {"field": "p", "type": "quantitative", "title": null, "scale": {"domain": [2595.23, 2666.92], "nice": false, "zero": false}},
            "text": {"field": "p", "type": "quantitative", "format": ".3f"}
          }
        }
      ]
    },
    {
      "width": 1220,
      "height": 102,
      "layer": [
        {
          "data": {"name": "ao"},
          "mark": {"type": "bar", "width": 4},
          "encoding": {
            "x": {"field": "i", "type": "quantitative", "title": null, "scale": {"domain": [0, 152.5], "nice": false, "zero": false},
                  "axis": {"grid": true, "labels": false, "ticks": false, "domain": false, "tickCount": 80, "values": [0,4,8,12,16,20,24,28,32,36,40,44,48,52,56,60,64,68,72,76,80,84,88,92,96,100,104,108,112,116,120,124,128,132,136,140,144,148,152]}},
            "y": {"field": "v", "type": "quantitative", "title": null, "scale": {"domain": [-19.6703, 27.3644], "nice": false, "zero": false},
                  "axis": {"orient": "right", "values": [-19.6703, 0, 27.3644], "tickCount": 10, "format": ".4f", "labelFlush": true, "labelOverlap": false, "grid": true, "gridOpacity": {"condition": {"test": "datum.value === 0", "value": 1}, "value": 0}}},
            "y2": {"datum": 0},
            "color": {"field": "d", "type": "nominal", "legend": null, "scale": {"domain": ["up", "dn"], "range": ["#008000", "#ff0000"]}}
          }
        },
        {
          "data": {"values": [{"t": "AO -3.6717"}]},
          "mark": {"type": "text", "align": "left", "baseline": "top", "dy": 4},
          "encoding": {
            "x": {"datum": 0.5, "type": "quantitative", "scale": {"domain": [0, 152.5], "nice": false, "zero": false}},
            "y": {"datum": 27.3644, "type": "quantitative", "scale": {"domain": [-19.6703, 27.3644], "nice": false, "zero": false}},
            "text": {"field": "t"}
          }
        }
      ]
    },
    {
      "width": 1220,
      "height": 100,
      "layer": [
        {
          "data": {"name": "ac"},
          "mark": {"type": "bar", "width": 4},
          "encoding": {
            "x": {"field": "i", "type": "quantitative", "title": null, "scale": {"domain": [0, 152.5], "nice": false, "zero": false},
                  "axis": {"grid": true, "labels": false, "ticks": false, "domain": false, "tickCount": 80, "values": [0,4,8,12,16,20,24,28,32,36,40,44,48,52,56,60,64,68,72,76,80,84,88,92,96,100,104,108,112,116,120,124,128,132,136,140,144,148,152]}},
            "y": {"field": "v", "type": "quantitative", "title": null, "scale": {"domain": [-7.04783, 6.12277], "nice": false, "zero": false},
                  "axis": {"orient": "right", "values": [-7.04783, 0, 6.12277], "tickCount": 10, "format": ".5f", "labelFlush": true, "labelOverlap": false, "grid": true, "gridOpacity": {"condition": {"test": "datum.value === 0", "value": 1}, "value": 0}}},
            "y2": {"datum": 0},
            "color": {"field": "d", "type": "nominal", "legend": null, "scale": {"domain": ["up", "dn"], "range": ["#008000", "#ff0000"]}}
          }
        },
        {
          "data": {"values": [{"t": "AC 1.75197"}]},
          "mark": {"type": "text", "align": "left", "baseline": "top", "dy": 4},
          "encoding": {
            "x": {"datum": 0.5, "type": "quantitative", "scale": {"domain": [0, 152.5], "nice": false, "zero": false}},
            "y": {"datum": 6.12277, "type": "quantitative", "scale": {"domain": [-7.04783, 6.12277], "nice": false, "zero": false}},
            "text": {"field": "t"}
          }
        }
      ]
    },
    {
      "width": 1220,
      "height": 84,
      "layer": [
        {
          "data": {"name": "gator"},
          "mark": {"type": "bar", "width": 4},
          "encoding": {
            "x": {"field": "i", "type": "quantitative", "title": null, "scale": {"domain": [0, 152.5], "nice": false, "zero": false},
                  "axis": {"grid": true, "domain": false, "tickCount": 80, "values": [0,4,8,12,16,20,24,28,32,36,40,44,48,52,56,60,64,68,72,76,80,84,88,92,96,100,104,108,112,116,120,124,128,132,136,140,144,148,152],
                           "labelExpr": "datum.value % 8 === 0 && datum.value <= 136 ? ['26 Dec 2024','27 Dec 08:00','27 Dec 16:00','30 Dec 01:00','30 Dec 09:00','30 Dec 17:00','31 Dec 02:00','31 Dec 10:00','31 Dec 18:00','2 Jan 04:00','2 Jan 12:00','2 Jan 20:00','3 Jan 05:00','3 Jan 13:00','3 Jan 21:00','6 Jan 06:00','6 Jan 14:00','6 Jan 22:00'][datum.value / 8] : ''",
                           "tickOpacity": {"condition": {"test": "datum.value % 8 === 0 && datum.value <= 136", "value": 1}, "value": 0},
                           "labelAlign": "left", "labelPadding": 2, "labelOverlap": false, "labelBound": false, "labelFlush": false}},
            "y": {"field": "u", "type": "quantitative", "title": null, "scale": {"domain": [-11.02, 13.0879], "nice": false, "zero": false},
                  "axis": {"orient": "right", "values": [-11.02, 0, 13.0879], "tickCount": 10, "format": ".4f", "labelFlush": true, "labelOverlap": false, "grid": true, "gridOpacity": {"condition": {"test": "datum.value === 0", "value": 1}, "value": 0}}},
            "y2": {"datum": 0},
            "color": {"field": "ud", "type": "nominal", "legend": null, "scale": {"domain": ["up", "dn"], "range": ["#008000", "#ff0000"]}}
          }
        },
        {
          "data": {"name": "gator"},
          "mark": {"type": "bar", "width": 4},
          "encoding": {
            "x": {"field": "i", "type": "quantitative", "title": null, "scale": {"domain": [0, 152.5], "nice": false, "zero": false}},
            "y": {"field": "l", "type": "quantitative", "title": null, "scale": {"domain": [-11.02, 13.0879], "nice": false, "zero": false}},
            "y2": {"datum": 0},
            "color": {"field": "ld", "type": "nominal", "legend": null, "scale": {"domain": ["up", "dn"], "range": ["#008000", "#ff0000"]}}
          }
        },
        {
          "data": {"values": [{"z": 0}]},
          "mark": {"type": "rule", "color": "#e6e6e6", "strokeWidth": 1, "strokeDash": [3, 3]},
          "encoding": {
            "y": {"field": "z", "type": "quantitative", "scale": {"domain": [-11.02, 13.0879], "nice": false, "zero": false}}
          }
        },
        {
          "data": {"values": [{"t": "Gator(13,8,5) 2.2954 0.0000"}]},
          "mark": {"type": "text", "align": "left", "baseline": "top", "dy": 4},
          "encoding": {
            "x": {"datum": 0.5, "type": "quantitative", "scale": {"domain": [0, 152.5], "nice": false, "zero": false}},
            "y": {"datum": 13.0879, "type": "quantitative", "scale": {"domain": [-11.02, 13.0879], "nice": false, "zero": false}},
            "text": {"field": "t"}
          }
        }
      ]
    }
  ]
}
